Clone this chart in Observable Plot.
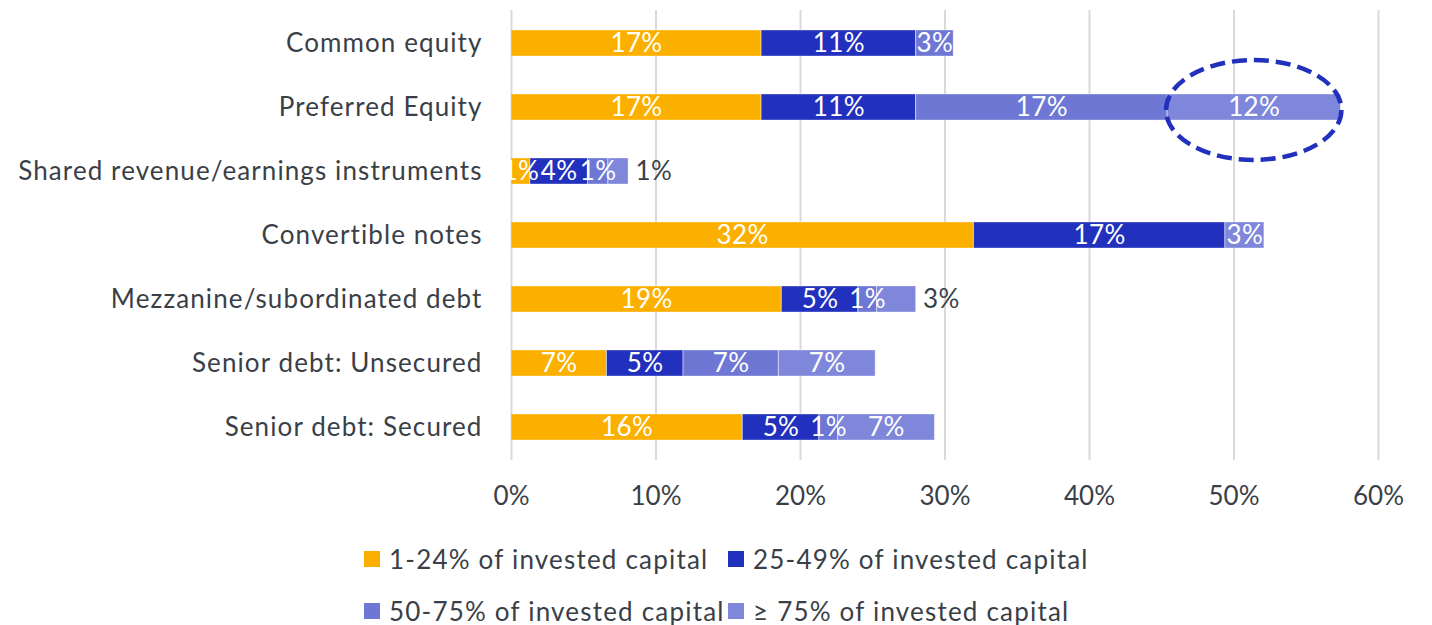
<!DOCTYPE html>
<html>
<head>
<meta charset="utf-8">
<script src="https://cdn.jsdelivr.net/npm/d3@7"></script>
<script src="https://cdn.jsdelivr.net/npm/@observablehq/plot@0.6"></script>
<style>
  html, body { margin: 0; padding: 0; background: #fff; }
  body { width: 1432px; height: 625px; position: relative; overflow: hidden; font-family: Lato, "Noto Sans", sans-serif; color: #3a3f47; }
  #chart { position: absolute; left: 0; top: 0; }
  .legend { position: absolute; left: 0; top: 0; width: 1432px; height: 625px; pointer-events: none; }
  .item { position: absolute; display: flex; align-items: center; height: 30px; font-size: 26px; letter-spacing: 1.2px; white-space: nowrap; }
  .sw { width: 16px; height: 16px; margin-right: 9px; flex: none; }
</style>
</head>
<body>
<div id="chart"></div>
<div class="legend" id="legend"></div>
<script>
const categories = [
  "Common equity",
  "Preferred Equity",
  "Shared revenue/earnings instruments",
  "Convertible notes",
  "Mezzanine/subordinated debt",
  "Senior debt: Unsecured",
  "Senior debt: Secured"
];
const seriesNames = [
  "1-24% of invested capital",
  "25-49% of invested capital",
  "50-75% of invested capital",
  "≥ 75% of invested capital"
];
const colors = ["#FBB000", "#2231BD", "#6E78D4", "#7F87DA"];
const s1 = [17.3, 17.3, 1.3, 32.0, 18.7, 6.6, 16.0];
const s2 = [10.7, 10.7, 4.0, 17.4, 5.3, 5.3, 5.3];
const s3 = [2.6, 17.4, 1.4, 0, 1.3, 6.6, 1.3];
const s4 = [0, 12.0, 1.4, 2.7, 2.7, 6.7, 6.7];
const xTicks = [0, 10, 20, 30, 40, 50, 60];
// categories whose last label sits just past the end of the bar
const outsideLabelCats = ["Shared revenue/earnings instruments", "Mezzanine/subordinated debt"];
// highlighted segment
const highlight = {cat: "Preferred Equity", series: "≥ 75% of invested capital"};

const seriesValues = [s1, s2, s3, s4];
const rows = [];
categories.forEach((cat, i) => {
  let acc = 0;
  const segs = [];
  seriesNames.forEach((s, j) => {
    const v = seriesValues[j][i];
    if (v > 0) segs.push({cat, series: s, value: v, x0: acc, x1: acc + v, label: Math.round(v) + "%"});
    acc += v;
  });
  segs.forEach((d, k) => {
    d.outside = (k === segs.length - 1) && outsideLabelCats.includes(cat);
    rows.push(d);
  });
});

const textColor = "#3a3f47";
const plot = Plot.plot({
  width: 1432,
  height: 525,
  marginLeft: 511,
  marginRight: 54,
  marginTop: 10,
  marginBottom: 65,
  style: {fontFamily: "Lato, 'Noto Sans', sans-serif", fontSize: "26px", color: textColor, background: "white", letterSpacing: "0.4px"},
  x: {domain: [0, 60], ticks: xTicks, tickFormat: d => d + "%", tickSize: 0, tickPadding: 26, label: null, line: false},
  y: {domain: categories, paddingInner: 0.594, paddingOuter: 0.3, tickSize: 0, tickPadding: 29, label: null},
  color: {domain: seriesNames, range: colors},
  marks: [
    Plot.ruleX(xTicks, {stroke: "#d9d9d9", strokeWidth: 2}),
    Plot.barX(rows, {x1: "x0", x2: "x1", y: "cat", fill: "series", inset: 0}),
    Plot.barX(rows, {x1: "x0", x2: "x1", y: "cat", fill: "none", stroke: "white", strokeOpacity: 0.35, strokeWidth: 1, inset: 0}),
    Plot.text(rows.filter(d => !d.outside), {x: d => (d.x0 + d.x1) / 2, y: "cat", text: "label", fill: "white", fontSize: 26}),
    Plot.text(rows.filter(d => d.outside), {x: "x1", y: "cat", text: "label", fill: textColor, fontSize: 26, textAnchor: "start", dx: 7})
  ]
});
document.getElementById("chart").appendChild(plot);

// wider tracking for the category labels, tighter for the x tick labels
d3.select(plot).selectAll('g[aria-label^="y-axis"] text').style("letter-spacing", "1.1px");
d3.select(plot).selectAll('g[aria-label^="x-axis"] text').style("letter-spacing", "0px");

// dashed ellipse around the highlighted segment, positioned through the plot's scales
const xs = plot.scale("x"), ys = plot.scale("y");
const h = rows.find(d => d.cat === highlight.cat && d.series === highlight.series);
const cx = xs.apply((h.x0 + h.x1) / 2);
const cy = ys.apply(h.cat) + ys.bandwidth / 2 + 3;
const rx = (xs.apply(h.x1) - xs.apply(h.x0)) / 2 + 1;
d3.select(plot).append("ellipse")
  .attr("cx", cx).attr("cy", cy).attr("rx", rx).attr("ry", ys.step * 0.78)
  .attr("fill", "none").attr("stroke", "#2231BD").attr("stroke-width", 4.5)
  .attr("stroke-dasharray", "15 7");

// legend
const legendPos = [[364, 559], [728, 559], [364, 611], [728, 611]];
const leg = document.getElementById("legend");
seriesNames.forEach((s, i) => {
  const it = document.createElement("div");
  it.className = "item";
  it.style.left = legendPos[i][0] + "px";
  it.style.top = (legendPos[i][1] - 15) + "px";
  const sw = document.createElement("span");
  sw.className = "sw";
  sw.style.background = colors[i];
  const t = document.createElement("span");
  t.textContent = s;
  it.appendChild(sw); it.appendChild(t);
  leg.appendChild(it);
});
</script>
</body>
</html>
